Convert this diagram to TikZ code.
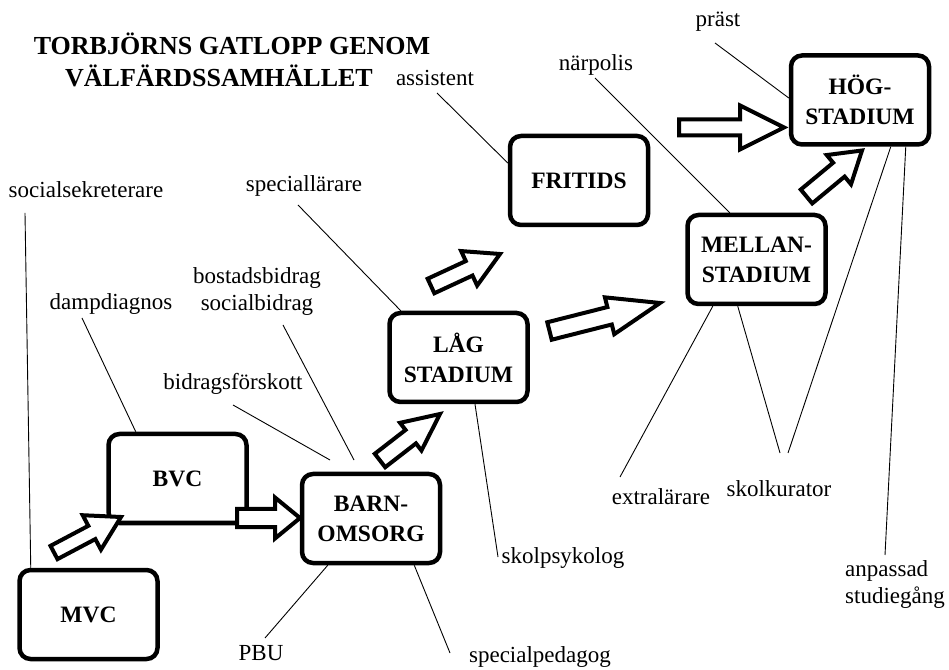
\documentclass[tikz,border=0pt]{standalone}
\usepackage{fontspec}
\setmainfont{Liberation Serif}
\usetikzlibrary{calc}
\newcommand{\lblfont}{\fontsize{23}{27}\selectfont}
\newcommand{\boxfont}{\fontsize{23.5}{30}\selectfont\bfseries}
\newcommand{\titlefont}{\fontsize{26}{31}\selectfont\bfseries}
% tail, tip, shaft half width, head half width, head length
\newcommand{\fatarrow}[5]{%
  \draw[fat] let \p1=(#1), \p2=(#2), \n1={atan2(\y2-\y1,\x2-\x1)}, \n2={veclen(\x2-\x1,\y2-\y1)-#5} in
    ($(\p1)+({\n1+90}:#3)$) -- ($(\p1)+({\n1}:\n2)+({\n1+90}:#3)$) -- ($(\p1)+({\n1}:\n2)+({\n1+90}:#4)$)
    -- (\p2) -- ($(\p1)+({\n1}:\n2)+({\n1-90}:#4)$) -- ($(\p1)+({\n1}:\n2)+({\n1-90}:#3)$)
    -- ($(\p1)+({\n1-90}:#3)$) -- cycle;}
\tikzset{
  box/.style={draw, line width=4.5pt, rounded corners=11pt, minimum width=138pt,
    minimum height=89pt, align=center, font=\boxfont, inner sep=0pt, fill=white},
  lbl/.style={font=\lblfont, inner sep=0pt, align=center},
  fat/.style={draw, line width=4pt, fill=white, line join=miter, miter limit=10},
  conn/.style={line width=0.9pt}
}
\begin{document}
\begin{tikzpicture}[x=1pt,y=1pt]
\useasboundingbox (0,0) rectangle (949,669);
\fill[white] (0,0) rectangle (949,669);

% title
\node[font=\titlefont, inner sep=0pt] (t1) at (232,625) {TORBJÖRNS GATLOPP GENOM};
\node[font=\titlefont, inner sep=0pt] (t2) at (219,593) {VÄLFÄRDSSAMHÄLLET};

% boxes
\node[box] (mvc) at (88.5,54.5) {MVC};
\node[box] (bvc) at (177.5,190.5) {BVC};
\node[box] (barn) at (371,150.5) {BARN-\\OMSORG};
\node[box] (lag) at (458.5,311.5) {LÅG\\STADIUM};
\node[box] (fritids) at (579,488.5) {FRITIDS};
\node[box] (mellan) at (756.5,409.5) {MELLAN-\\STADIUM};
\node[box] (hog) at (860,569) {HÖG-\\STADIUM};

% labels
\node[lbl] (assistent) at (435,591) {assistent};
\node[lbl] (narpolis) at (596,604) {närpolis};
\node[lbl] (prast) at (718,647) {präst};
\node[lbl] (speciallarare) at (304,483) {speciallärare};
\node[lbl] (socsek) at (86,479) {socialsekreterare};
\node[lbl] (damp) at (111,365) {dampdiagnos};
\node[lbl] (bidrag) at (257,377) {bostadsbidrag\\socialbidrag};
\node[lbl] (bforsk) at (233,285) {bidragsförskott};
\node[lbl] (skolpsyk) at (563,111) {skolpsykolog};
\node[lbl] (specped) at (540,12) {specialpedagog};
\node[lbl] (pbu) at (261,16) {PBU};
\node[lbl] (extra) at (661,172) {extralärare};
\node[lbl] (kurator) at (779,180) {skolkurator};
\node[lbl, anchor=west, align=left] (anpassad) at (845,84) {anpassad\\studiegång};

% free ends of connectors
\coordinate (c-socsek) at (25,456);
\coordinate (c-damp) at (82,351);
\coordinate (c-bidrag) at (283,344);
\coordinate (c-bidrag2) at (354,209);
\coordinate (c-bforsk) at (233,264);
\coordinate (c-bforsk2) at (330,209);
\coordinate (c-spec) at (298,464);
\coordinate (c-assist) at (437,576);
\coordinate (c-narp) at (595,591);
\coordinate (c-prast) at (715,626);
\coordinate (c-skolpsyk) at (498,112);
\coordinate (c-pbu) at (265,31);
\coordinate (c-specped) at (450,16);
\coordinate (c-extra) at (620,192);
\coordinate (c-kur) at (780,216);
\coordinate (c-kur2) at (788,216);
\coordinate (c-anp) at (885,114);

% connectors
\draw[conn] (c-socsek) -- ($(mvc.north west)+(13.5,0)$);
\draw[conn] (c-damp) -- ($(bvc.north west)+(29.5,0)$);
\draw[conn] (c-bidrag) -- (c-bidrag2);
\draw[conn] (c-bforsk) -- (c-bforsk2);
\draw[conn] (c-spec) -- ($(lag.north west)+(13.5,0)$);
\draw[conn] (c-assist) -- ($(fritids.west)+(0,17.5)$);
\draw[conn] (c-narp) -- ($(mellan.north west)+(44.5,0)$);
\draw[conn] (c-prast) -- ($(hog.west)+(0,2)$);
\draw[conn] ($(lag.south)+(16.5,0)$) -- (c-skolpsyk);
\draw[conn] ($(barn.south west)+(28,0)$) -- (c-pbu);
\draw[conn] ($(barn.south east)+(-28,0)$) -- (c-specped);
\draw[conn] ($(mellan.south west)+(27.5,0)$) -- (c-extra);
\draw[conn] ($(mellan.south west)+(52.5,0)$) -- (c-kur);
\draw[conn] ($(hog.south west)+(102,0)$) -- (c-kur2);
\draw[conn] ($(hog.south west)+(117,0)$) -- (c-anp);

% block arrows
\coordinate (a1s) at (54,116.5);   \coordinate (a1e) at (121,152);
\coordinate (a2s) at (237,151);    \coordinate (a2e) at (300,151);
\coordinate (a3s) at (380,208.5);  \coordinate (a3e) at (440,255);
\coordinate (a4s) at (431,383);    \coordinate (a4e) at (500,415);
\coordinate (a5s) at (549.5,338);  \coordinate (a5e) at (660,366);
\coordinate (a6s) at (679,541.5);  \coordinate (a6e) at (784,541.5);
\coordinate (a7s) at (806.5,472.5);\coordinate (a7e) at (862,518.5);
\fatarrow{a1s}{a1e}{7.5}{19.5}{33}
\fatarrow{a2s}{a2e}{9}{20.5}{25}
\fatarrow{a3s}{a3e}{8.5}{17.5}{37}
\fatarrow{a4s}{a4e}{8}{19}{34}
\fatarrow{a5s}{a5e}{9}{19}{52}
\fatarrow{a6s}{a6e}{8}{22}{44}
\fatarrow{a7s}{a7e}{9}{19}{30}
\end{tikzpicture}
\end{document}
